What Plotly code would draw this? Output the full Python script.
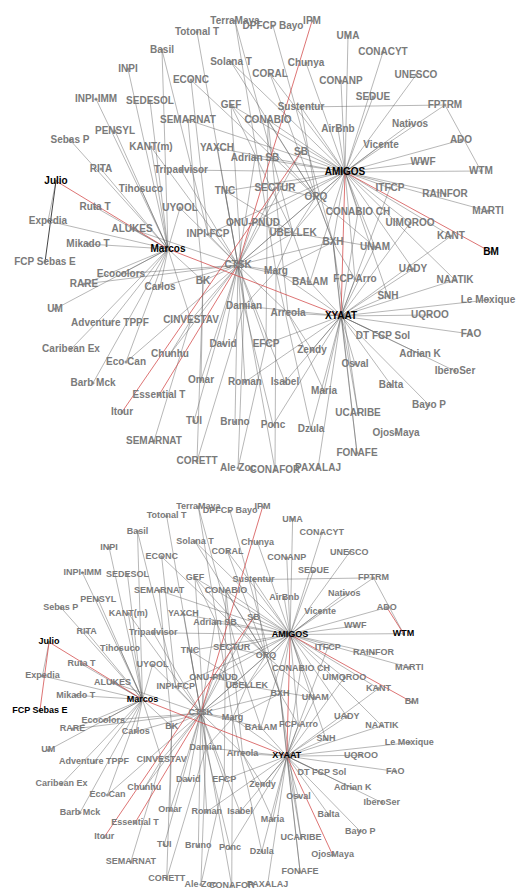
import plotly.graph_objects as go

# node names and layout positions (layout units, y grows downward)
names = ["TerraMaya", "DPFCP Bayo", "IPM", "Totonal T", "UMA", "Basil", "Solana T", "Chunya", "CONACYT",
         "INPI", "ECONC", "CORAL", "CONANP", "UNESCO", "INPI-IMM", "SEDESOL", "GEF", "Sustentur", "SEDUE",
         "FPTRM", "PENSYL", "SEMARNAT", "CONABIO", "AirBnb", "Nativos", "Sebas P", "KANT(m)", "YAXCH",
         "Adrian SB", "SB", "Vicente", "ADO", "AMIGOS", "WWF", "WTM", "RITA", "Tripadvisor", "Julio",
         "Tihosuco", "UYOOL", "TNC", "SECTUR", "ORQ", "ITFCP", "RAINFOR", "MARTI", "Ruta T", "Expedia",
         "ALUKES", "ONU-PNUD", "INPI-FCP", "UBELLEK", "CONABIO CH", "UIMQROO", "KANT", "BM", "Mikado T",
         "FCP Sebas E", "Marcos", "CTSK", "BXH", "UNAM", "Ecocolors", "Carlos", "BK", "Marg", "BALAM",
         "FCP Arro", "UADY", "NAATIK", "RARE", "SNH", "Le Mexique", "UM", "CINVESTAV", "Damian", "Arreola",
         "XYAAT", "UQROO", "Adventure TPPF", "DT FCP Sol", "FAO", "Caribean Ex", "Eco Can", "Chunhu",
         "David", "EFCP", "Zendy", "Osval", "Adrian K", "IberoSer", "Barb Mck", "Omar", "Roman", "Isabel",
         "Maria", "Balta", "Bayo P", "Essential T", "UCARIBE", "OjosMaya", "Itour", "TUI", "Bruno", "Ponc",
         "Dzula", "SEMARNAT ", "FONAFE", "CORETT", "Ale Zoc", "CONAFOR", "PAXALAJ"]
node_x = [227, 265, 304, 189, 340, 154, 223, 298, 375, 120, 183, 262, 333, 408, 88, 142, 223, 293, 365,
          437, 107, 180, 260, 330, 402, 62, 143, 209, 247, 293, 373, 453, 337, 415, 473, 93, 173, 48,
          133, 172, 217, 267, 308, 382, 437, 480, 87, 40, 124, 245, 200, 285, 350, 402, 443, 483, 80,
          37, 160, 230, 325, 367, 113, 152, 195, 268, 302, 347, 405, 447, 76, 380, 480, 47, 183, 236, 280,
          333, 422, 102, 375, 463, 63, 118, 162, 215, 258, 304, 347, 412, 447, 85, 193, 237, 277, 316,
          383, 421, 151, 350, 388, 114, 186, 227, 265, 303, 146, 349, 189, 230, 267, 310]
node_y = [13, 18, 13, 24, 28, 42, 54, 55, 44, 61, 72, 66, 73, 67, 91, 93, 97, 99, 89, 97, 123, 112, 112,
          121, 116, 132, 139, 140, 150, 144, 137, 132, 164, 154, 163, 161, 162, 173, 181, 200, 183, 180,
          189, 180, 186, 203, 199, 213, 221, 215, 226, 225, 204, 215, 228, 244, 236, 254, 241, 257, 234,
          239, 266, 279, 273, 263, 274, 271, 261, 272, 276, 288, 292, 301, 312, 298, 305, 308, 307, 315,
          328, 326, 341, 354, 346, 336, 336, 342, 356, 346, 363, 375, 372, 374, 374, 383, 377, 397, 387,
          405, 425, 404, 413, 414, 417, 421, 433, 445, 453, 460, 462, 460]

hub_links = {
    "AMIGOS": ["UMA", "CONACYT", "UNESCO", "CONANP", "SEDUE", "FPTRM", "Nativos", "ADO", "WTM", "WWF",
               "Vicente", "RAINFOR", "MARTI", "KANT", "ITFCP", "CONABIO CH", "UIMQROO", "ORQ", "AirBnb",
               "Sustentur", "SB", "GEF", "CORAL", "Chunya", "Solana T", "SECTUR", "YAXCH", "Tripadvisor",
               "TNC", "UNAM", "BXH", "UBELLEK", "CTSK", "BALAM", "FCP Arro", "SNH",
               "UADY", "NAATIK", "SEMARNAT", "CONABIO", "Adrian SB", "INPI-FCP", "ONU-PNUD"],
    "CTSK": ["Carlos", "BK", "Ecocolors", "ALUKES", "UYOOL", "TNC", "SB", "Adrian SB", "YAXCH", "KANT(m)",
             "INPI-FCP", "ONU-PNUD", "UBELLEK", "BXH", "Marg", "BALAM", "Damian", "CINVESTAV", "David",
             "Chunhu", "Eco Can", "Omar", "EFCP", "Roman", "Arreola", "Isabel", "Bruno", "TUI",
             "CONAFOR", "ORQ", "SECTUR", "Tripadvisor", "Totonal T", "RARE"],
    "XYAAT": ["DT FCP Sol", "Le Mexique", "UQROO", "FAO", "Adrian K", "IberoSer", "Bayo P", "Balta",
              "UCARIBE", "FONAFE", "PAXALAJ", "Maria", "Osval", "Zendy", "Isabel", "Arreola", "SNH",
              "UADY", "UNAM", "BXH", "FCP Arro", "BALAM", "Marg", "UIMQROO", "NAATIK", "KANT", "Dzula",
              "Ponc", "Damian", "EFCP", "Roman", "CONABIO CH", "ITFCP"],
    "Marcos": ["Mikado T", "Ruta T", "Expedia", "Tihosuco", "RITA", "ALUKES", "Ecocolors", "RARE",
               "Carlos", "UM", "Adventure TPPF", "Caribean Ex", "Barb Mck", "Sebas P", "PENSYL",
               "INPI-IMM", "INPI", "Basil", "SEDESOL", "KANT(m)", "UYOOL", "BK", "CINVESTAV", "Eco Can"],
    "Julio": ["Expedia"],
    "ORQ": ["UBELLEK", "BXH", "SECTUR", "GEF", "CONABIO", "ECONC", "UNAM", "Solana T", "Sustentur"],
    "UBELLEK": ["TerraMaya", "ONU-PNUD", "TNC", "UNAM", "BALAM", "Marg", "GEF"],
    "BXH": ["DPFCP Bayo", "CORAL", "UCARIBE", "FONAFE", "Marg", "FCP Arro"],
    "Marg": ["TerraMaya", "CONAFOR", "Dzula", "Damian"],
    "Damian": ["GEF", "Ponc", "Ale Zoc", "CORETT"],
    "BK": ["SEMARNAT", "CORETT", "Omar"],
    "EFCP": ["Ale Zoc", "CONABIO"],
    "CINVESTAV": ["SEMARNAT ", "Chunhu"],
    "INPI-FCP": ["ECONC", "Basil"],
    "Arreola": ["CONABIO", "Zendy", "Maria"],
    "FPTRM": ["WTM", "Sustentur"],
}

red_top = [("Julio", "Marcos"), ("Marcos", "XYAAT"), ("IPM", "CTSK"), ("Essential T", "CTSK"),
           ("Itour", "SB"), ("BM", "AMIGOS"), ("AMIGOS", "XYAAT")]
red_bottom = [("Julio", "Marcos"), ("Marcos", "XYAAT"), ("IPM", "CTSK"), ("Essential T", "CTSK"),
              ("Itour", "SB"), ("BM", "AMIGOS"), ("AMIGOS", "XYAAT"), ("ADO", "WTM"),
              ("OjosMaya", "XYAAT"), ("Julio", "FCP Sebas E")]
dark_top = [("Julio", "FCP Sebas E")]

black_top = ["Julio", "AMIGOS", "Marcos", "BM", "XYAAT"]
black_bottom = ["Julio", "FCP Sebas E", "WTM", "AMIGOS", "Marcos", "XYAAT"]

pos = {n: (x, y) for n, x, y in zip(names, node_x, node_y)}


def segs(pairs):
    xs, ys = [], []
    for a, b in pairs:
        xs += [pos[a][0], pos[b][0], None]
        ys += [pos[a][1], pos[b][1], None]
    return xs, ys


gray_pairs = [(h, t) for h, ts in hub_links.items() for t in ts]

fig = go.Figure()
panels = [(red_top, dark_top, black_top, 10), (red_bottom, [], black_bottom, 9)]
for k, (reds, darks, blacks, fsize) in enumerate(panels):
    ax = "" if k == 0 else "2"
    gx, gy = segs(gray_pairs)
    fig.add_trace(go.Scatter(x=gx, y=gy, mode="lines", line=dict(color="rgba(90,90,90,0.55)", width=0.8),
                             xaxis="x" + ax, yaxis="y" + ax, hoverinfo="skip"))
    if darks:
        dx, dy = segs(darks)
        fig.add_trace(go.Scatter(x=dx, y=dy, mode="lines", line=dict(color="#444", width=1),
                                 xaxis="x" + ax, yaxis="y" + ax, hoverinfo="skip"))
    rx, ry = segs(reds)
    fig.add_trace(go.Scatter(x=rx, y=ry, mode="lines", line=dict(color="rgba(210,70,70,0.75)", width=1),
                             xaxis="x" + ax, yaxis="y" + ax, hoverinfo="skip"))
    colors = ["black" if n in blacks else "#7a7a7a" for n in names]
    fig.add_trace(go.Scatter(x=node_x, y=node_y, mode="markers+text", text=[n.strip() for n in names],
                             textposition="middle center", marker=dict(size=3, color="#999"),
                             textfont=dict(family="Liberation Sans", size=fsize, color=colors, weight="bold"),
                             cliponaxis=False, xaxis="x" + ax, yaxis="y" + ax))

fig.update_layout(
    width=529, height=888, margin=dict(l=0, r=0, t=0, b=0), showlegend=False,
    plot_bgcolor="rgba(0,0,0,0)", paper_bgcolor="white",
    xaxis=dict(visible=False, range=[0, 529], domain=[0, 1]),
    yaxis=dict(visible=False, range=[470, 0], domain=[0.4707, 1]),
    xaxis2=dict(visible=False, range=[0, 529], domain=[0.002, 0.836]),
    yaxis2=dict(visible=False, range=[470, 0], domain=[0.0034, 0.4505]),
)
fig.write_html("out.html")
